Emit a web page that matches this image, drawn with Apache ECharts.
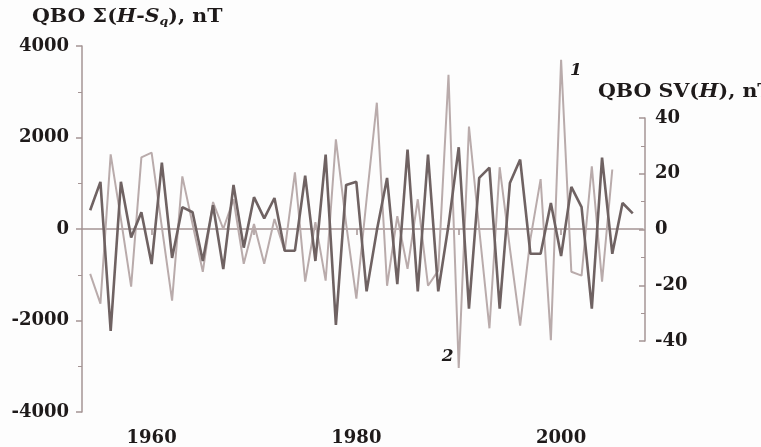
<!DOCTYPE html>
<html><head><meta charset="utf-8">
<script src="https://cdn.jsdelivr.net/npm/echarts@6/dist/echarts.min.js"></script>
<style>html,body{margin:0;padding:0;background:#fdfdfd}#c{width:761px;height:447px}</style>
</head><body><div id="c"></div>
<script>
// Years (annual QBO values)
const years = [1954,1955,1956,1957,1958,1959,1960,1961,1962,1963,1964,1965,1966,1967,1968,1969,1970,1971,1972,1973,1974,1975,1976,1977,1978,1979,1980,1981,1982,1983,1984,1985,1986,1987,1988,1989,1990,1991,1992,1993,1994,1995,1996,1997,1998,1999,2000,2001,2002,2003,2004,2005,2006,2007];
// Curve 1: QBO Σ(H-Sq), nT (left axis)
const sigmaHSq = [-980,-1630,1630,220,-1260,1565,1670,40,-1565,1150,110,-935,590,0,650,-760,110,-760,220,-480,1240,-1150,150,-1130,1960,110,-1520,650,2760,-1240,280,-870,650,-1240,-910,3370,-3040,2240,0,-2170,1350,-430,-2110,-220,1090,-2430,3700,-935,-1020,1370,-1150,1300,null,null];
// Curve 2: QBO SV(H), nT (right axis)
const svH = [6.9,17.1,-36.4,17.1,-2.9,6.2,-12.4,24.0,-10.2,8.0,6.2,-11.3,8.7,-14.2,16.0,-6.5,11.6,4.0,11.3,-7.6,-7.6,19.3,-11.3,26.9,-34.2,16.0,17.1,-22.2,-0.4,18.5,-19.6,28.7,-22.2,26.9,-22.2,1.5,29.5,-28.4,18.5,22.2,-28.4,16.7,25.1,-8.7,-8.7,9.5,-9.5,15.3,8.0,-28.4,25.8,-8.7,9.5,5.8];
const xTickYears = [1960,1970,1980,1990,2000];
const xLabelYears = [1960,1980,2000];
const leftTicks = [-4000,-2000,0,2000,4000];
const rightTicks = [-40,-20,0,20,40];
const curveLabels = [{text:'1', year:2000}, {text:'2', year:1990}];

const axisColor = '#a49494';
const textColor = '#1e1a1a';
const font = 'DejaVu Serif';
const chart = echarts.init(document.getElementById('c'));
const lab = {color:textColor, fontFamily:font, fontWeight:'bold', fontSize:18, formatter:v=>String(v)};

chart.setOption({
  animation:false,
  backgroundColor:'#fdfdfd',
  grid:[
    {left:82, right:118, top:46, bottom:34},
    {left:82, right:118, top:118, bottom:106}
  ],
  xAxis:[
    {type:'value', gridIndex:0, min:1953.2, max:2008,
     axisLine:{show:true, lineStyle:{color:axisColor, width:1.5}},
     axisTick:{show:true, length:6, customValues:xTickYears, lineStyle:{color:axisColor, width:1.5}},
     axisLabel:Object.assign({customValues:xLabelYears, margin:17}, lab),
     splitLine:{show:false}},
    {type:'value', gridIndex:1, min:1953.2, max:2008, show:false}
  ],
  yAxis:[
    {type:'value', gridIndex:0, min:-4000, max:4000, interval:2000,
     axisLine:{show:true, lineStyle:{color:axisColor, width:1.5}},
     axisTick:{show:true, length:6, lineStyle:{color:axisColor, width:1.5}},
     minorTick:{show:true, splitNumber:2, length:4, lineStyle:{color:axisColor}},
     axisLabel:Object.assign({margin:13, customValues:leftTicks}, lab),
     splitLine:{show:false}},
    {type:'value', gridIndex:1, position:'right', offset:2, min:-40, max:40, interval:20,
     axisLine:{show:true, lineStyle:{color:axisColor, width:1.5}},
     axisTick:{show:true, inside:true, length:6, lineStyle:{color:axisColor, width:1.5}},
     minorTick:{show:true, splitNumber:2, length:4, lineStyle:{color:axisColor}},
     axisLabel:Object.assign({margin:10, customValues:rightTicks}, lab),
     splitLine:{show:false}}
  ],
  series:[
    {type:'line', name:'QBO Σ(H-Sq)', xAxisIndex:0, yAxisIndex:0, symbol:'none', z:2,
     data:years.map((y,i)=>[y, sigmaHSq[i]]),
     lineStyle:{color:'#b9abab', width:2}},
    {type:'line', name:'QBO SV(H)', xAxisIndex:1, yAxisIndex:1, symbol:'none', clip:false, z:3,
     data:years.map((y,i)=>[y, svH[i]]),
     lineStyle:{color:'#6f6262', width:2.6}}
  ]
});

// Titles and curve labels
const g = [
  {type:'text', x:32, y:7, scaleX:1.14, style:{
    text:'{a|QBO Σ(}{i|H}{a|-}{i|S}{s|q}{a|), nT}',
    rich:{
      a:{fontFamily:font, fontWeight:'bold', fontSize:18, fill:textColor},
      i:{fontFamily:font, fontWeight:'bold', fontStyle:'italic', fontSize:18, fill:textColor},
      s:{fontFamily:font, fontWeight:'bold', fontStyle:'italic', fontSize:11, fill:textColor, padding:[10,0,0,0]}
    }}},
  {type:'text', x:598, y:83, scaleX:1.14, style:{
    text:'{a|QBO SV(}{i|H}{a|), nT}',
    rich:{
      a:{fontFamily:font, fontWeight:'bold', fontSize:18, fill:textColor},
      i:{fontFamily:font, fontWeight:'bold', fontStyle:'italic', fontSize:18, fill:textColor}
    }}}
];
curveLabels.forEach(c => {
  const idx = years.indexOf(c.year);
  const p = chart.convertToPixel({xAxisIndex:0, yAxisIndex:0}, [c.year, sigmaHSq[idx]]);
  const pos = c.text === '1' ? {x:p[0]+9, y:p[1]+2} : {x:p[0]-17, y:p[1]-20};
  g.push({type:'text', x:pos.x, y:pos.y, style:{text:c.text, fontFamily:font, fontWeight:'bold', fontStyle:'italic', fontSize:17, fill:textColor}});
});
chart.setOption({graphic:g});
</script>
</body></html>
